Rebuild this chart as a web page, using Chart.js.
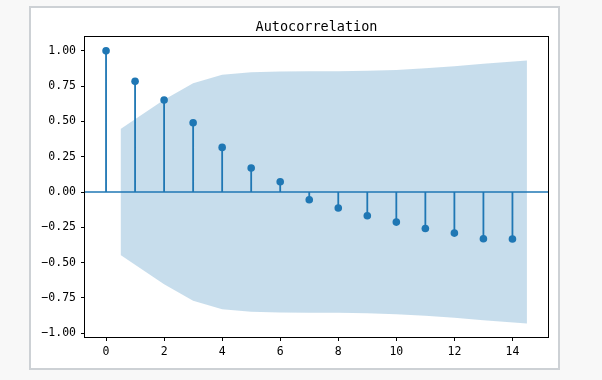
<!DOCTYPE html>
<html>
<head>
<meta charset="utf-8">
<script src="https://cdn.jsdelivr.net/npm/chart.js@4/dist/chart.umd.min.js"></script>
<style>
  html, body { margin: 0; padding: 0; background: #f8f8f8; width: 602px; height: 380px; overflow: hidden; }
  #frame { position: absolute; left: 29px; top: 6px; width: 531px; height: 364px; box-sizing: border-box;
           border: 2px solid #cdd1d5; background: #ffffff; }
  #c { position: absolute; left: 0; top: 0; }
</style>
</head>
<body>
<div id="frame"></div>
<canvas id="c" width="602" height="380"></canvas>
<script>
// ---- data ----
const chartTitle = "Autocorrelation";
const lags = [0, 1, 2, 3, 4, 5, 6, 7, 8, 9, 10, 11, 12, 13, 14];
const acfValues = [1.00, 0.784, 0.652, 0.491, 0.316, 0.170, 0.073, -0.055, -0.113, -0.168, -0.213, -0.258, -0.291, -0.331, -0.333];
const bandLags = [0.5, 2, 3, 4, 5, 6, 7, 8, 9, 10, 11, 12, 13, 14.5];
const bandUpper = [0.447, 0.653, 0.770, 0.830, 0.848, 0.853, 0.855, 0.856, 0.859, 0.865, 0.876, 0.890, 0.908, 0.931];
const bandLower = [-0.447, -0.653, -0.770, -0.830, -0.848, -0.853, -0.855, -0.856, -0.859, -0.865, -0.876, -0.890, -0.908, -0.931];
const xTicks = [0, 2, 4, 6, 8, 10, 12, 14];
const yTicks = [-1.00, -0.75, -0.50, -0.25, 0.00, 0.25, 0.50, 0.75, 1.00];
const xLimits = [-0.725, 15.225];
const yLimits = [-1.027, 1.098];

const C0 = '#1f77b4';
const bandFill = 'rgba(31,119,180,0.25)';
const tickFont = { family: 'DejaVu Sans Mono', size: 11.5 };

// stems: (lag,0)->(lag,v) segments separated by gaps
const stemData = [];
lags.forEach((k, i) => {
  stemData.push({ x: k, y: 0 }, { x: k, y: acfValues[i] }, { x: k, y: null });
});

const titlePlugin = {
  id: 'mplTitle',
  afterDraw(chart) {
    const { ctx, chartArea } = chart;
    ctx.save();
    ctx.font = '13.5px "DejaVu Sans Mono"';
    ctx.fillStyle = '#000';
    ctx.textAlign = 'center';
    ctx.textBaseline = 'alphabetic';
    ctx.fillText(chartTitle, (chartArea.left + chartArea.right) / 2, 30.7);
    ctx.restore();
  }
};
const spinePlugin = {
  id: 'spines',
  afterDatasetsDraw(chart) {
    const { ctx, chartArea: a } = chart;
    ctx.save();
    ctx.strokeStyle = '#000';
    ctx.lineWidth = 1;
    ctx.strokeRect(Math.round(a.left) - 0.5, Math.round(a.top) - 0.5,
                   Math.round(a.right - a.left) + 1, Math.round(a.bottom - a.top) + 1);
    ctx.restore();
  }
};

new Chart(document.getElementById('c'), {
  type: 'scatter',
  data: {
    datasets: [
      { // markers
        type: 'scatter', order: 0,
        data: lags.map((k, i) => ({ x: k, y: acfValues[i] })),
        pointRadius: 3.8, pointBackgroundColor: C0, pointBorderWidth: 0, borderColor: C0
      },
      { // stems
        type: 'line', order: 1, data: stemData, spanGaps: false,
        borderColor: C0, borderWidth: 1.8, pointRadius: 0, tension: 0, fill: false
      },
      { // zero line spanning the axis
        type: 'line', order: 2,
        data: [{ x: xLimits[0], y: 0 }, { x: xLimits[1], y: 0 }],
        borderColor: C0, borderWidth: 1.6, pointRadius: 0, fill: false
      },
      { // band upper
        type: 'line', order: 4,
        data: bandLags.map((k, i) => ({ x: k, y: bandUpper[i] })),
        borderWidth: 0, borderColor: 'rgba(0,0,0,0)', pointRadius: 0, tension: 0,
        fill: '+1', backgroundColor: bandFill
      },
      { // band lower
        type: 'line', order: 3,
        data: bandLags.map((k, i) => ({ x: k, y: bandLower[i] })),
        borderWidth: 0, borderColor: 'rgba(0,0,0,0)', pointRadius: 0, tension: 0,
        fill: false
      }
    ]
  },
  options: {
    responsive: false, animation: false, devicePixelRatio: 1,
    layout: { padding: { left: 0, right: 54, top: 37, bottom: 0 } },
    plugins: { legend: { display: false }, tooltip: { enabled: false }, title: { display: false } },
    scales: {
      x: {
        type: 'linear', min: xLimits[0], max: xLimits[1],
        afterFit(s) { s.height = 43; },
        afterBuildTicks(s) { s.ticks = xTicks.map(v => ({ value: v })); },
        grid: { display: true, drawOnChartArea: false, drawTicks: true, tickLength: 4, tickColor: '#000', tickWidth: 1 },
        border: { display: false },
        ticks: { color: '#000', font: tickFont, padding: 4, maxRotation: 0, autoSkip: false,
                 callback: v => String(v) }
      },
      y: {
        type: 'linear', min: yLimits[0], max: yLimits[1],
        afterFit(s) { s.width = 85; },
        afterBuildTicks(s) { s.ticks = yTicks.map(v => ({ value: v })); },
        grid: { display: true, drawOnChartArea: false, drawTicks: true, tickLength: 4, tickColor: '#000', tickWidth: 1 },
        border: { display: false },
        ticks: { color: '#000', font: tickFont, padding: 5, autoSkip: false,
                 callback: v => (v < 0 ? '\u2212' + Math.abs(v).toFixed(2) : v.toFixed(2)) }
      }
    }
  },
  plugins: [titlePlugin, spinePlugin]
});
</script>
</body>
</html>
